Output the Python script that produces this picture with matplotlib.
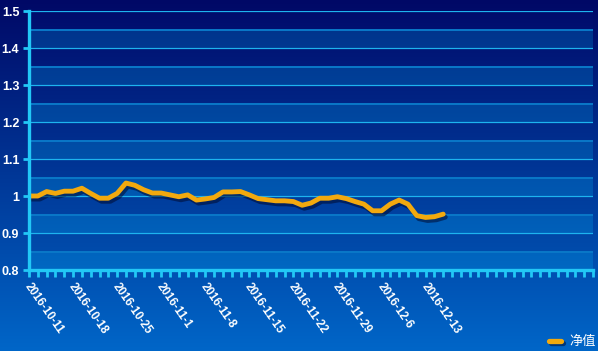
import numpy as np
import matplotlib
matplotlib.use("Agg")
import matplotlib.pyplot as plt
from matplotlib import patheffects as pe
from matplotlib.lines import Line2D
from matplotlib.colors import to_rgb
from matplotlib.transforms import ScaledTranslation

# ---- data ----
dates = ['2016-10-11', '2016-10-12', '2016-10-13', '2016-10-14', '2016-10-17',
         '2016-10-18', '2016-10-19', '2016-10-20', '2016-10-21', '2016-10-24',
         '2016-10-25', '2016-10-26', '2016-10-27', '2016-10-28', '2016-10-31',
         '2016-11-1', '2016-11-2', '2016-11-3', '2016-11-4', '2016-11-7',
         '2016-11-8', '2016-11-9', '2016-11-10', '2016-11-11', '2016-11-14',
         '2016-11-15', '2016-11-16', '2016-11-17', '2016-11-18', '2016-11-21',
         '2016-11-22', '2016-11-23', '2016-11-24', '2016-11-25', '2016-11-28',
         '2016-11-29', '2016-11-30', '2016-12-1', '2016-12-2', '2016-12-5',
         '2016-12-6', '2016-12-7', '2016-12-8', '2016-12-9', '2016-12-12',
         '2016-12-13', '2016-12-14', '2016-12-15']
nav = [1.000, 1.000, 1.012, 1.007, 1.013, 1.013, 1.021, 1.007, 0.994, 0.994,
       1.007, 1.035, 1.029, 1.017, 1.008, 1.008, 1.003, 0.998, 1.003, 0.989,
       0.992, 0.996, 1.011, 1.011, 1.012, 1.003, 0.993, 0.990, 0.987, 0.987,
       0.985, 0.975, 0.981, 0.994, 0.994, 0.998, 0.993, 0.985, 0.978, 0.960,
       0.960, 0.978, 0.989, 0.978, 0.947, 0.942, 0.944, 0.951]
n_categories = 65
label_every = 5
series_name = '净值'
y_ticks = [0.8, 0.9, 1.0, 1.1, 1.2, 1.3, 1.4, 1.5]
y_ticklabels = ['0.8', '0.9', '1', '1.1', '1.2', '1.3', '1.4', '1.5']

# ---- style ----
W, H = 598, 351
fig = plt.figure(figsize=(W / 100, H / 100), dpi=100)

def grad(c1, c2, n):
    a = np.array(to_rgb(c1)); b = np.array(to_rgb(c2))
    t = np.linspace(0, 1, n)[:, None]
    return a * (1 - t) + b * t

# figure background gradient
bg = fig.add_axes([0, 0, 1, 1], zorder=-10)
bg.imshow(grad('#000866', '#0066c8', 351)[:, None, :], aspect='auto',
          extent=[0, 1, 0, 1], origin='upper')
bg.set_axis_off()

L, R, T, B = 29, 593, 11, 270
ax = fig.add_axes([L / W, 1 - B / H, (R - L) / W, (B - T) / H])
ax.set_facecolor('none')

# split area bands (image of rows)
nrows = 700
yy = np.linspace(1.5, 0.8, nrows)
dark = grad('#000c6c', '#0050b0', nrows)
light = grad('#003088', '#0068c2', nrows)
band = (np.floor((yy - 0.8) / 0.05 + 1e-9).astype(int)) % 2 == 0
img = np.where(band[:, None], light, dark)
ax.imshow(img[:, None, :], aspect='auto', extent=[0, n_categories - 1, 0.8, 1.5],
          origin='upper', zorder=0)
ax.set_xlim(0, n_categories - 1)
ax.set_ylim(0.8, 1.5)

for v in np.arange(0.85, 1.5, 0.1):
    ax.axhline(v, color='#0a78c8', lw=1.4, zorder=1)
for v in y_ticks[1:]:
    ax.axhline(v, color='#1db4ef', lw=0.9, zorder=2)

# line
x = np.arange(len(nav))
ax.plot(x, nav, color='#f2a90e', lw=3.5, solid_joinstyle='round',
        solid_capstyle='round', zorder=5,
        path_effects=[pe.SimpleLineShadow(offset=(1.5, -2.2), shadow_color='#000a30', alpha=0.55),
                      pe.Normal()])

# axes styling
cyan = '#22c8f6'
for s in ['top', 'right']:
    ax.spines[s].set_visible(False)
for s in ['left', 'bottom']:
    ax.spines[s].set_color(cyan)
    ax.spines[s].set_linewidth(2.4)
    ax.spines[s].set_zorder(6)

ax.set_yticks(y_ticks)
ax.set_yticklabels(y_ticklabels)
ax.tick_params(axis='y', colors=cyan, length=4.5, width=2.0, pad=2.5,
               labelcolor='white', labelsize=9)
for t in ax.get_yticklabels():
    t.set_fontfamily('Liberation Sans')
    t.set_fontweight('bold')

xt = list(range(n_categories))
xl = [dates[i] if (i < len(dates) and i % label_every == 0) else '' for i in xt]
ax.set_xticks(xt)
ax.set_xticklabels(xl, rotation=-55, ha='left', va='top', rotation_mode='anchor')
ax.tick_params(axis='x', colors=cyan, length=5, width=2.0, pad=3,
               labelcolor='white', labelsize=8.3)
shift = ScaledTranslation(3 / 100, 0, fig.dpi_scale_trans)
for t in ax.get_xticklabels():
    t.set_fontfamily('Liberation Sans')
    t.set_fontweight('bold')
    t.set_transform(t.get_transform() + shift)

# legend
ly = 1 - 341 / H
fig.add_artist(Line2D([549 / W, 561 / W], [ly, ly], color='#f2a90e', lw=3.8,
                      solid_capstyle='round',
                      path_effects=[pe.SimpleLineShadow(offset=(1.2, -1.5), shadow_color='#000a30', alpha=0.5),
                                    pe.Normal()]))
fig.text(569 / W, ly, series_name, color='white', fontsize=9.5, va='center', ha='left',
         family=['Noto Sans CJK SC', 'DejaVu Sans'])

fig.savefig('out.png', dpi=100)
